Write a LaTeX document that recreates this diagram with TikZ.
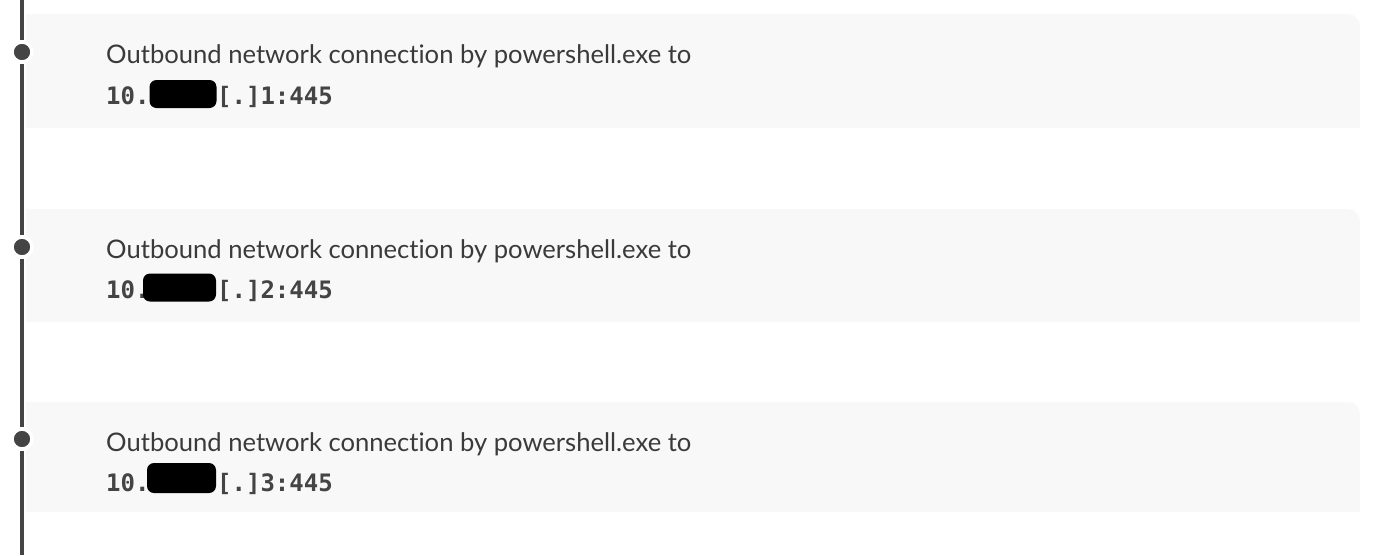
\documentclass[tikz,border=0pt]{standalone}
\usepackage{fontspec}
\setmainfont{Lato}[Ligatures=NoCommon]
\newfontfamily\codefont{DejaVu Sans Mono}
\usepackage{tikz}

\definecolor{tlgray}{HTML}{444444}
\definecolor{cardbg}{HTML}{F8F8F8}
\definecolor{msgtext}{HTML}{3A3A3A}

\begin{document}
\begin{tikzpicture}[x=1pt,y=-1pt,
    dot/.style={circle,fill=tlgray,draw=white,line width=3.5pt,
        inner sep=0pt,minimum size=20pt},
    timeline/.style={draw=tlgray,line width=4pt},
    msg/.style={anchor=base west,inner sep=0pt,text=msgtext,
        font=\fontsize{25.6}{30}\selectfont},
    addr/.style={anchor=base west,inner sep=0pt,text=tlgray,
        font=\codefont\bfseries\fontsize{24}{28}\selectfont},
    redact/.style={fill=black,rounded corners=7pt,inner sep=0pt,
        minimum width=67pt,minimum height=28pt}]
      \useasboundingbox (0,0) rectangle (1382,555);
      % cards
      \fill[cardbg] (26,128) -- (26,14) -- (1348,14)
        arc[start angle=90,end angle=0,radius=12pt] -- (1360,128) -- cycle;
      \fill[cardbg] (26,322) -- (26,209) -- (1348,209)
        arc[start angle=90,end angle=0,radius=12pt] -- (1360,322) -- cycle;
      \fill[cardbg] (26,512) -- (26,402) -- (1348,402)
        arc[start angle=90,end angle=0,radius=12pt] -- (1360,512) -- cycle;
      % timeline
      \coordinate (top) at (22,0);
      \coordinate (bottom) at (22,555);
      \node[dot] (dot1) at (22,52) {};
      \node[dot] (dot2) at (22,247) {};
      \node[dot] (dot3) at (22,439) {};
      \path
      (top) edge [timeline] (dot1)
      (dot1) edge [timeline] (dot2)
      (dot2) edge [timeline] (dot3)
      (dot3) edge [timeline] (bottom);
      % events
      \node[msg] (msg1) at (106,63) {Outbound network connection by powershell.exe to};
      \node[addr] (net1) at (106,104) {10.};
      \node[redact] (redact1) at (183,94) {};
      \node[addr] (host1) at (217,104) {[.]1:445};
      \node[msg] (msg2) at (106,258) {Outbound network connection by powershell.exe to};
      \node[addr] (net2) at (106,298) {10.};
      \node[redact,minimum width=73pt] (redact2) at (179.5,287.5) {};
      \node[addr] (host2) at (217,298) {[.]2:445};
      \node[msg] (msg3) at (106,451) {Outbound network connection by powershell.exe to};
      \node[addr] (net3) at (106,491) {10.};
      \node[redact,minimum width=69pt,minimum height=30pt] (redact3) at (181.5,478) {};
      \node[addr] (host3) at (217,491) {[.]3:445};
    \end{tikzpicture}
\end{document}
